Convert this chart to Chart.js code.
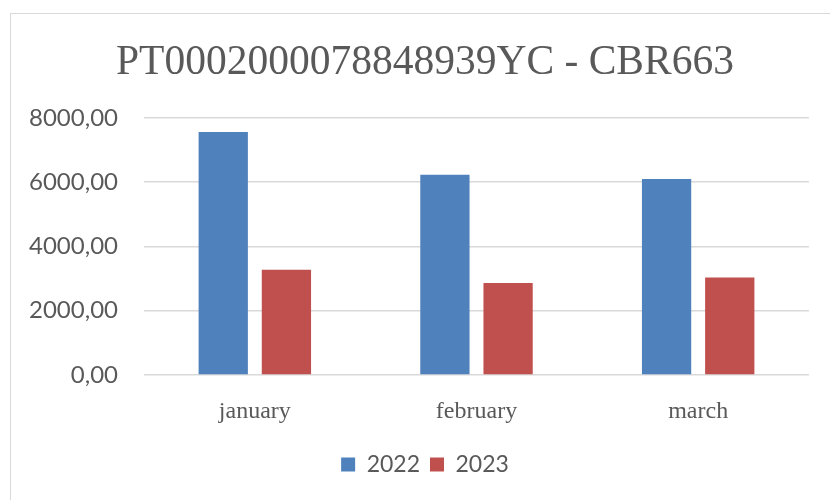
<!DOCTYPE html>
<html>
<head>
<meta charset="utf-8">
<script src="https://cdn.jsdelivr.net/npm/chart.js@4.4.0/dist/chart.umd.min.js"></script>
<style>
  html, body { margin: 0; padding: 0; background: #fff; overflow: hidden; }
  #frame {
    position: absolute; left: 10px; top: 13px;
    width: 830px; height: 495px;
    border: 1.5px solid #d9d9d9;
  }
  canvas { display: block; }
</style>
</head>
<body>
<div id="frame"><canvas id="chart" width="828" height="486"></canvas></div>
<script>
// monthly totals per year
const months = ['january', 'february', 'march'];
const values2022 = [7560, 6230, 6100];
const values2023 = [3270, 2860, 3030];
const yTicks = [0, 2000, 4000, 6000, 8000];

const TEXT = '#595959';

const ctx = document.getElementById('chart').getContext('2d');
new Chart(ctx, {
  type: 'bar',
  data: {
    labels: months,
    datasets: [
      { label: '2022', data: values2022, backgroundColor: '#4f81bd' },
      { label: '2023', data: values2023, backgroundColor: '#c0504d' }
    ]
  },
  options: {
    responsive: false,
    animation: false,
    categoryPercentage: 0.57,
    barPercentage: 0.78,
    layout: { padding: { left: 0, right: 0, top: 0, bottom: 14 } },
    plugins: {
      title: {
        display: true,
        text: 'PT0002000078848939YC - CBR663',
        color: TEXT,
        font: { family: 'Liberation Serif', size: 41.5, weight: 'normal' },
        padding: { top: 24, bottom: 30 }
      },
      legend: {
        position: 'bottom',
        labels: {
          color: TEXT,
          boxWidth: 14,
          boxHeight: 14,
          padding: 10,
          font: { family: 'Lato', size: 23 }
        }
      },
      tooltip: { enabled: false }
    },
    scales: {
      x: {
        grid: { display: false },
        border: { display: false },
        ticks: {
          color: TEXT,
          padding: 14,
          font: { family: 'Liberation Serif', size: 24 }
        },
        afterFit: (scale) => { scale.height = 68; }
      },
      y: {
        min: 0,
        max: 8000,
        afterBuildTicks: (scale) => { scale.ticks = yTicks.map(v => ({ value: v })); },
        grid: { color: '#d9d9d9', lineWidth: 1.5, drawTicks: false },
        border: { display: false },
        ticks: {
          color: TEXT,
          padding: 26,
          font: { family: 'Lato', size: 24 },
          callback: (v) => v.toFixed(2).replace('.', ',')
        },
        afterFit: (scale) => { scale.width = 133; }
      },
      // empty margin on the right of the plot
      yRight: {
        position: 'right',
        grid: { display: false },
        border: { display: false },
        ticks: { display: false },
        afterFit: (scale) => { scale.width = 30; }
      }
    }
  }
});
</script>
</body>
</html>
